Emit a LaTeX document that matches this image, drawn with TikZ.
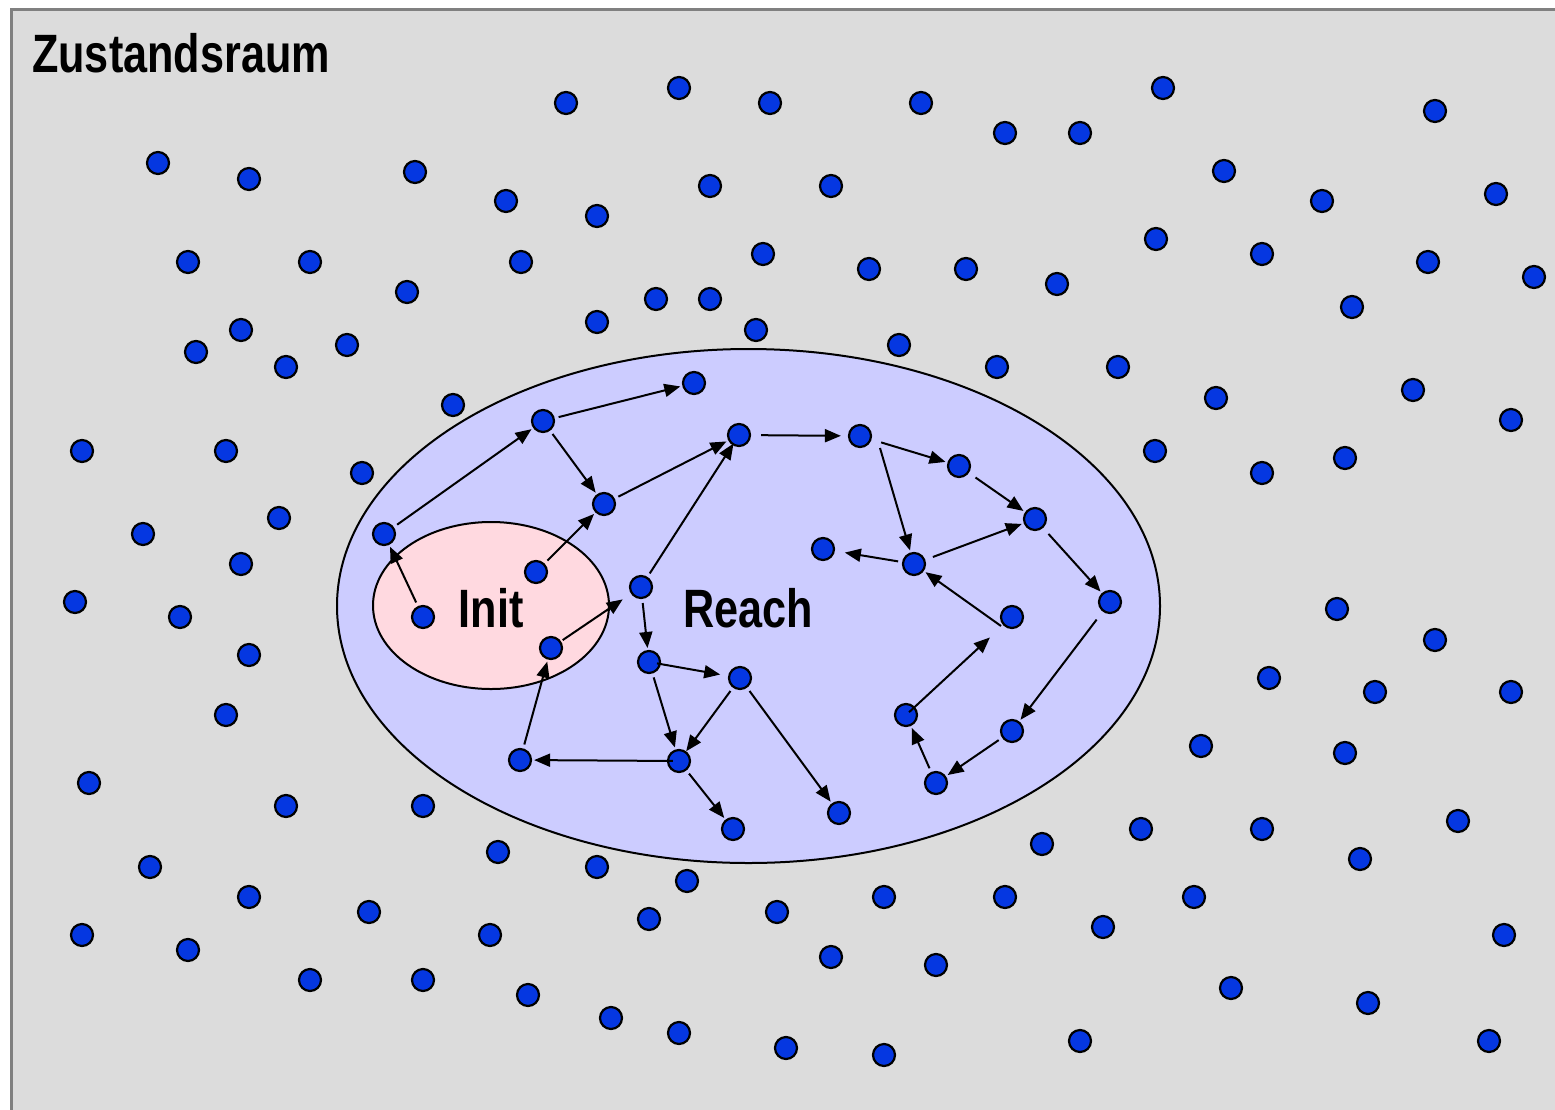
\documentclass[tikz,border=0pt]{standalone}
\usepackage{fontspec}
\newfontfamily\hvb{Liberation Sans}[FakeStretch=0.8]
\usetikzlibrary{arrows.meta,shapes.geometric}
\definecolor{bgray}{RGB}{220,220,220}
\definecolor{fgray}{RGB}{128,128,128}
\definecolor{reachc}{RGB}{204,204,255}
\definecolor{initc}{RGB}{255,217,224}
\definecolor{dotc}{RGB}{5,55,225}
\begin{document}
\begin{tikzpicture}[x=1pt,y=-1pt,
  dot/.style={circle,draw=black,line width=2.2pt,fill=dotc,minimum size=22pt,inner sep=0pt},
  arr/.style={-{Triangle[length=16pt,width=13pt]},line width=2pt,shorten <=4pt,shorten >=2pt},
  lbl/.style={font=\hvb\bfseries\fontsize{54}{60}\selectfont,inner sep=0pt}]
\useasboundingbox (0,0) rectangle (1555,1109);
\fill[white] (0,0) rectangle (1555,1109);
\draw[fgray,line width=3pt,fill=bgray] (11,9) rectangle (1562,1116);
\node[ellipse,draw,line width=2pt,fill=reachc,minimum width=823pt,minimum height=514pt,inner sep=0pt] (reach) at (748.5,606) {};
\node[ellipse,draw,line width=2pt,fill=initc,minimum width=236pt,minimum height=167pt,inner sep=0pt] (init) at (491,605.5) {};
\foreach \x/\y [count=\i] in {566/103,679/88,770/103,921/103,1005/133,1080/133,1163/88,1435/111,
158/163,249/179,415/172,506/201,597/216,710/186,831/186,1224/171,1322/201,1496/194,
188/262,310/262,521/262,763/254,869/269,966/269,1057/284,1156/239,1262/254,1428/262,1534/277,
407/292,656/299,710/299,597/322,756/330,1352/307,
241/330,196/352,286/367,347/345,899/345,997/367,1118/367,1216/398,1413/390,
453/405,82/451,226/451,362/473,1155/451,1262/473,1345/458,1511/420,
143/534,279/518,241/564,75/602,180/617,249/655,226/715,1337/609,1435/640,1269/678,1375/692,1511/692,
89/783,286/806,423/806,1201/746,1345/753,1458/821,
498/852,597/867,687/881,1042/844,1141/829,1262/829,1360/859,
150/867,249/897,369/912,649/919,777/912,884/897,1005/897,1103/927,1194/897,1504/935,
82/935,188/950,490/935,831/957,936/965,
310/980,423/980,528/995,611/1018,679/1033,786/1048,884/1055,1080/1041,1231/988,1368/1003,1489/1041}
  {\node[dot] (o\i) at (\x,\y) {};}
% reachable states
\node[dot] (a1) at (423,617) {};
\node[dot] (a2) at (536,572) {};
\node[dot] (a3) at (551,648) {};
\node[dot] (b1) at (384,534) {};
\node[dot] (b2) at (543,421) {};
\node[dot] (b3) at (694,383) {};
\node[dot] (b4) at (604,504) {};
\node[dot] (b5) at (739,435) {};
\node[dot] (b6) at (641,587) {};
\node[dot] (b7) at (860,436) {};
\node[dot] (b8) at (959,466) {};
\node[dot] (b9) at (1035,519) {};
\node[dot] (b10) at (823,549) {};
\node[dot] (b11) at (914,564) {};
\node[dot] (b12) at (1110,602) {};
\node[dot] (b13) at (1012,617) {};
\node[dot] (b14) at (649,662) {};
\node[dot] (b15) at (740,678) {};
\node[dot] (b16) at (906,715) {};
\node[dot] (b17) at (1012,731) {};
\node[dot] (b18) at (520,760) {};
\node[dot] (b19) at (679,761) {};
\node[dot] (b20) at (733,829) {};
\node[dot] (b21) at (839,813) {};
\node[dot] (b22) at (936,783) {};
% transitions
\draw[arr] (a1) -- (b1);
\draw[arr] (b1) -- (b2);
\draw[arr] (b2) -- (b3);
\draw[arr] (b2) -- (b4);
\draw[arr] (a2) -- (b4);
\draw[arr] (b4) -- (b5);
\draw[arr,shorten >=-2pt] (b6) -- (b5);
\draw[arr,shorten <=2pt,shorten >=10pt] (a3) -- (b6);
\draw[arr] (b6) -- (b14);
\draw[arr,shorten <=10pt,shorten >=7pt] (b5) -- (b7);
\draw[arr,shorten <=10pt] (b7) -- (b8);
\draw[arr,shorten <=0pt] ([shift={(20,12)}]b7.center) -- (b11);
\draw[arr,shorten <=8pt] (b8) -- (b9);
\draw[arr,shorten <=8pt] (b11) -- (b9);
\draw[arr,shorten >=10pt] (b11) -- (b10);
\draw[arr,shorten <=0pt] ([shift={(-11,9)}]b13.center) -- (b11);
\draw[arr,shorten <=8pt] (b9) -- (b12);
\draw[arr,shorten <=10pt] (b12) -- (b17);
\draw[arr] (b17) -- (b22);
\draw[arr,shorten <=4pt] (b22) -- (b16);
\draw[arr,shorten <=-8pt,shorten >=18pt] (b16) -- (b13);
\draw[arr,shorten <=-4pt,shorten >=8pt] (b14) -- (b15);
\draw[arr] (b14) -- (b19);
\draw[arr,shorten >=0pt] (b15) -- (b19);
\draw[arr,shorten <=4pt] (b15) -- (b21);
\draw[arr,shorten <=-6pt] (b19) -- (b18);
\draw[arr] (b18) -- (a3);
\draw[arr,shorten <=4pt] (b19) -- (b20);
% labels
\node[lbl,anchor=base west] (tzr) at (32,72) {Zustandsraum};
\node[lbl,anchor=base] (tinit) at (491,627) {Init};
\node[lbl,anchor=base] (treach) at (748,627) {Reach};
\end{tikzpicture}
\end{document}
